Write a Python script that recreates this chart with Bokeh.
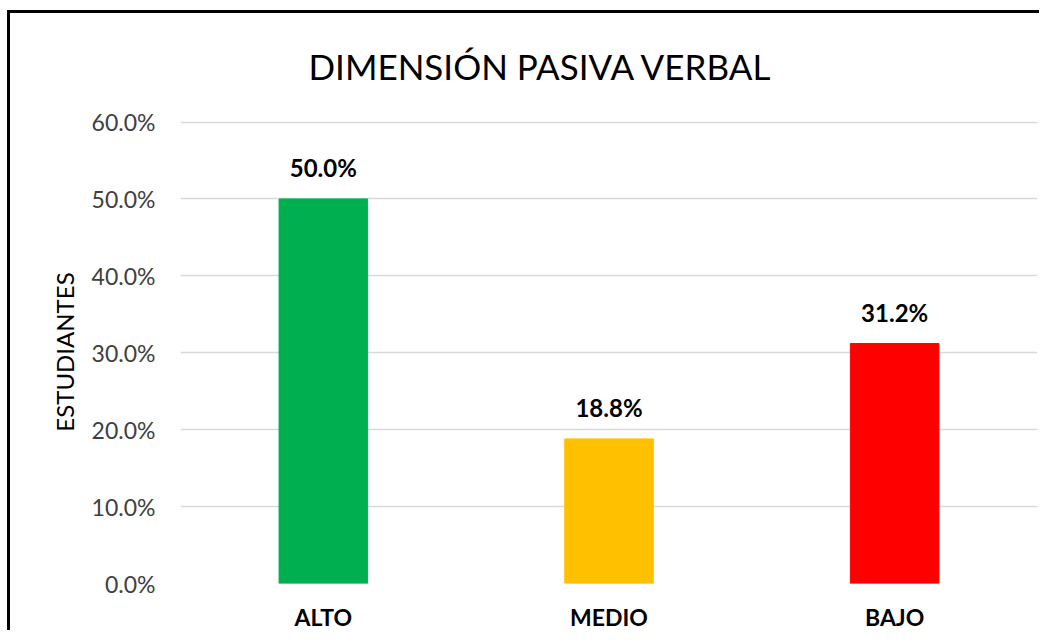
from bokeh.plotting import figure
from bokeh.models import ColumnDataSource, Range1d, FixedTicker, NumeralTickFormatter, LabelSet, Title
from bokeh.core.properties import value
from bokeh.embed import file_html
from bokeh.resources import INLINE

categories = ["ALTO", "MEDIO", "BAJO"]
values = [0.500, 0.188, 0.312]
colors = ["#00B050", "#FFC000", "#FF0000"]
y_ticks = [0.0, 0.1, 0.2, 0.3, 0.4, 0.5, 0.6]
title_text = "DIMENSIÓN PASIVA VERBAL"

labels = [f"{v*100:.1f}%" for v in values]
source = ColumnDataSource(dict(cat=categories, val=values, color=colors, label=labels))

FONT = "Lato"

p = figure(x_range=categories, y_range=Range1d(0, 0.602), width=1032, height=620,
           output_backend="svg", toolbar_location=None,
           min_border_left=170, min_border_right=5, min_border_top=107, min_border_bottom=44)
p.styles = {"border-left": "3px solid black", "border-top": "3px solid black",
            "margin-top": "10px", "margin-left": "7px"}

p.title = Title(text=title_text, align="left", vertical_align="top", text_font=FONT,
                text_font_size="35px", text_font_style="normal", text_color="#000000",
                text_line_height=1.0, standoff=63, offset=128)

p.vbar(x="cat", top="val", width=0.31, color="color", source=source)

p.add_layout(LabelSet(x="cat", y="val", text="label", source=source, text_align="center",
                      text_baseline="bottom", y_offset=17, text_font=value(FONT),
                      text_font_size=value("24px"), text_font_style=value("bold"),
                      text_color=value("#000000")))

p.yaxis.ticker = FixedTicker(ticks=y_ticks)
p.yaxis.formatter = NumeralTickFormatter(format="0.0%")
p.yaxis.axis_line_color = None
p.yaxis.major_tick_line_color = None
p.yaxis.minor_tick_line_color = None
p.yaxis.major_label_standoff = 19
p.yaxis.major_label_text_font = FONT
p.yaxis.major_label_text_font_size = "23px"
p.yaxis.major_label_text_color = "#404040"
p.yaxis.axis_label = "ESTUDIANTES"
p.yaxis.axis_label_text_font = FONT
p.yaxis.axis_label_text_font_size = "24px"
p.yaxis.axis_label_text_font_style = "normal"
p.yaxis.axis_label_text_color = "#000000"
p.yaxis.axis_label_standoff = 10

p.xaxis.axis_line_color = None
p.xaxis.major_tick_line_color = None
p.xaxis.minor_tick_line_color = None
p.xaxis.major_label_standoff = 13
p.xaxis.major_label_text_font = FONT
p.xaxis.major_label_text_font_size = "23px"
p.xaxis.major_label_text_font_style = "bold"
p.xaxis.major_label_text_color = "#000000"

p.xgrid.grid_line_color = None
p.ygrid.grid_line_color = "#D9D9D9"
p.ygrid.grid_line_width = 1.5
p.outline_line_color = None

open("out.html", "w").write(file_html(p, INLINE))
